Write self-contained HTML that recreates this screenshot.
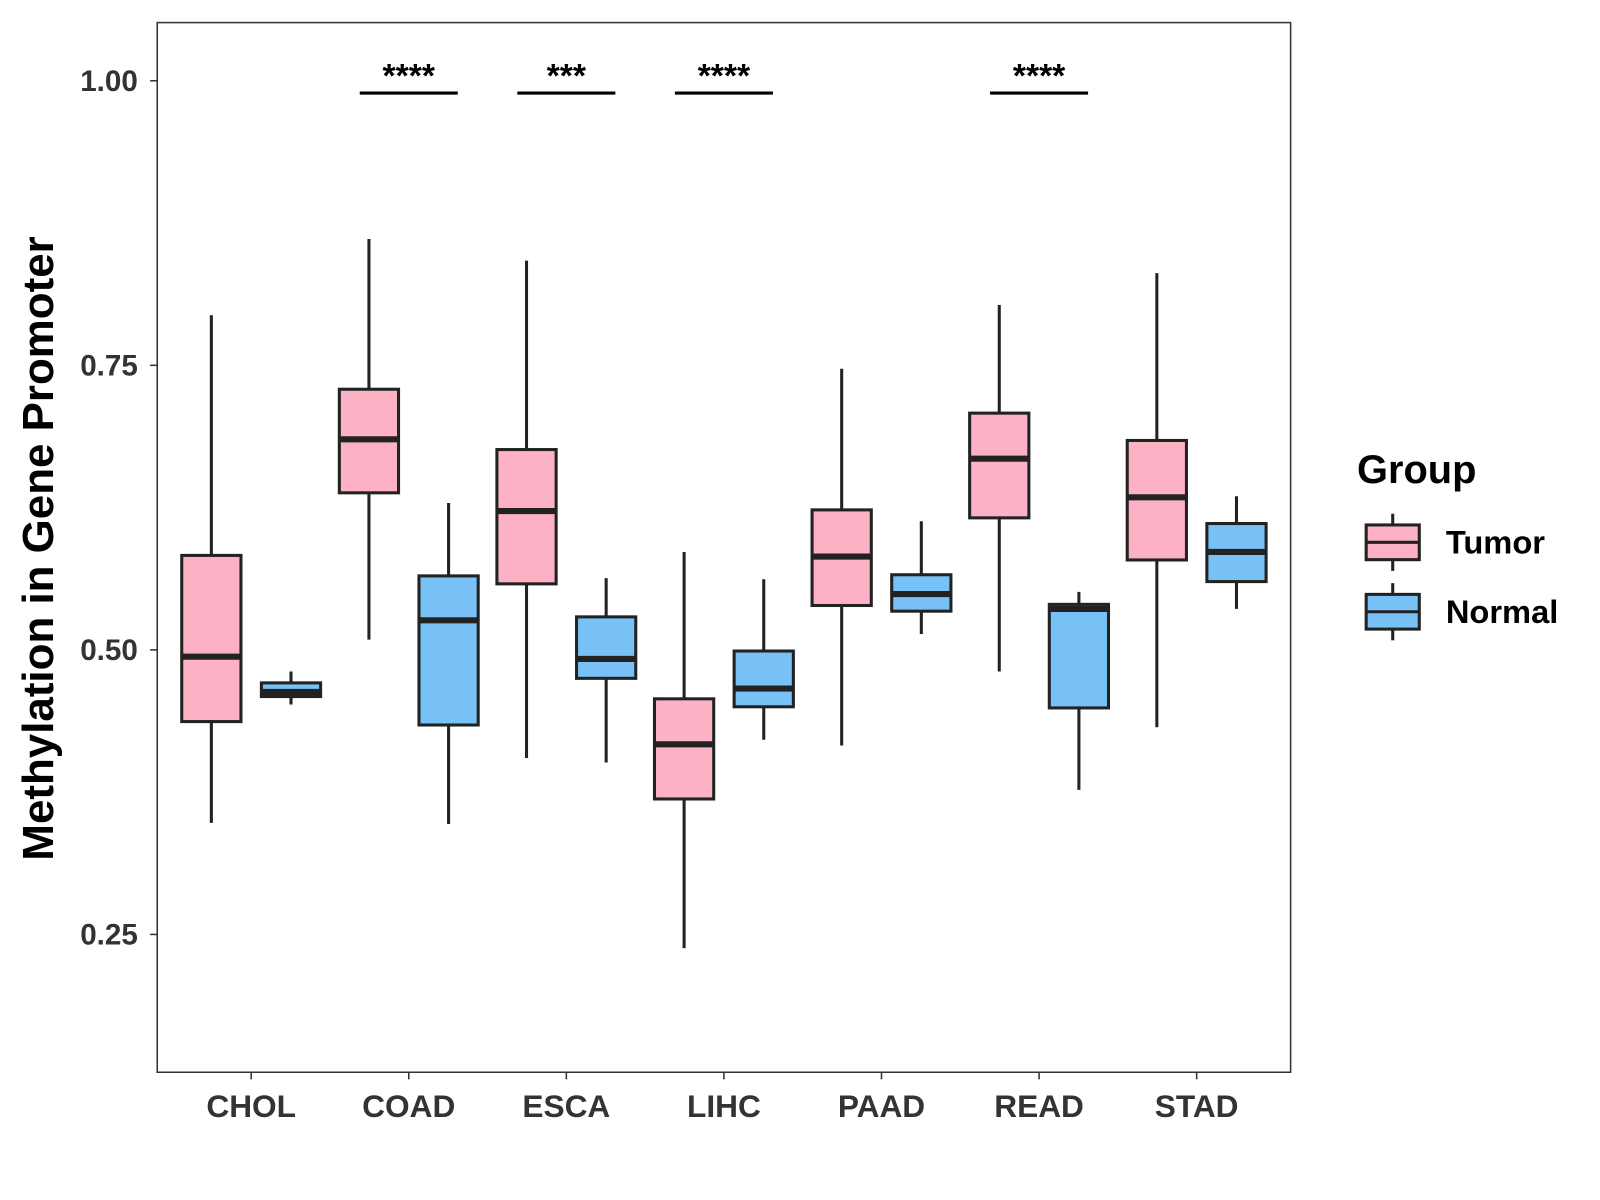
<!DOCTYPE html>
<html><head><meta charset="utf-8"><style>
body{margin:0;background:#fff;}
svg{display:block;font-family:"Liberation Sans",Arial,sans-serif;}
</style></head><body>
<svg id="chart" width="1600" height="1200" viewBox="0 0 1567 1175"></svg>
<script>
const categories=["CHOL","COAD","ESCA","LIHC","PAAD","READ","STAD"];
const tumorStats=[[0.348,0.437,0.494,0.583,0.794],[0.509,0.638,0.685,0.729,0.861],[0.405,0.558,0.622,0.676,0.842],[0.238,0.369,0.417,0.457,0.586],[0.416,0.539,0.582,0.623,0.747],[0.481,0.616,0.668,0.708,0.803],[0.432,0.579,0.634,0.684,0.831]];
const normalStats=[[0.452,0.459,0.463,0.471,0.481],[0.347,0.434,0.526,0.565,0.629],[0.401,0.475,0.492,0.529,0.563],[0.421,0.450,0.466,0.499,0.562],[0.514,0.534,0.549,0.566,0.613],[0.377,0.449,0.536,0.540,0.551],[0.536,0.560,0.586,0.611,0.635]];
const sigLabels=["","****","***","****","","****",""];
const yTicks=[0.25,0.50,0.75,1.00];
const yTickLabels=["0.25","0.50","0.75","1.00"];
const NS="http://www.w3.org/2000/svg";
const svg=document.getElementById('chart');
const L=154,R=1264,T=22,B=1050;
const y=v=>79+(1-v)*1114.7;
const x=i=>246+i*154.33;
function mk(t,a,p){const e=document.createElementNS(NS,t);for(const k in a)e.setAttribute(k,a[k]);(p||svg).appendChild(e);return e;}
const panel=mk('rect',{x:L,y:T,width:R-L,height:B-T,fill:'none',stroke:'#333','stroke-width':1.5});


yTicks.forEach((v,i)=>{
 const tk=mk('line',{x1:L-7,x2:L,y1:y(v),y2:y(v),stroke:'#333','stroke-width':1.5});
 
 
 const t=mk('text',{x:L-19,y:y(v)+10,'text-anchor':'end','font-size':29,'font-weight':'bold',fill:'#333'});
 t.textContent=yTickLabels[i];
 
 
});
const TUM='#fcb2c4',NOR='#77c1f7',W=58,off=39;
function box(cx,s,fill,name){
 const g=mk('g',{});
 
 
 mk('line',{x1:cx,x2:cx,y1:y(s[0]),y2:y(s[4]),stroke:'#222','stroke-width':3},g);
 mk('rect',{x:cx-W/2,y:y(s[3]),width:W,height:y(s[1])-y(s[3]),fill:fill,stroke:'#222','stroke-width':3},g);
 mk('line',{x1:cx-W/2,x2:cx+W/2,y1:y(s[2]),y2:y(s[2]),stroke:'#222','stroke-width':6},g);
}
categories.forEach((c,i)=>{
 box(x(i)-off,tumorStats[i],TUM,'tumor-box-'+c.toLowerCase());
 box(x(i)+off,normalStats[i],NOR,'normal-box-'+c.toLowerCase());
 const tk=mk('line',{x1:x(i),x2:x(i),y1:B,y2:B+7,stroke:'#333','stroke-width':1.5});
 
 
 const t=mk('text',{x:x(i),y:1094,'text-anchor':'middle','font-size':31,'font-weight':'bold',fill:'#333'});
 t.textContent=c;
 
 
 if(sigLabels[i]){
  const b=mk('line',{x1:x(i)-48,x2:x(i)+48,y1:91,y2:91,stroke:'#000','stroke-width':3});
  
  
  const s=mk('text',{x:x(i),y:85,'text-anchor':'middle','font-size':33,'font-weight':'bold',fill:'#000'});
  s.textContent=sigLabels[i];
  
  
 }
});
const yt=mk('text',{x:0,y:0,transform:'translate(52,537) rotate(-90)','text-anchor':'middle','font-size':43,'font-weight':'bold',fill:'#000'});
yt.textContent='Methylation in Gene Promoter';


const lt=mk('text',{x:1329,y:473,'font-size':39,'font-weight':'bold',fill:'#000'});
lt.textContent='Group';


[['Tumor',TUM,531],['Normal',NOR,599]].forEach(([n,f,cy])=>{
 const g=mk('g',{});
 
 
 mk('line',{x1:1364,x2:1364,y1:cy-28,y2:cy+28,stroke:'#222','stroke-width':3},g);
 mk('rect',{x:1338,y:cy-17,width:52,height:34,fill:f,stroke:'#222','stroke-width':3},g);
 mk('line',{x1:1338,x2:1390,y1:cy,y2:cy,stroke:'#222','stroke-width':3},g);
 const t=mk('text',{x:1416,y:cy+11,'font-size':32,'font-weight':'bold',fill:'#000'},g);
 t.textContent=n;
});
</script>
</body></html>
